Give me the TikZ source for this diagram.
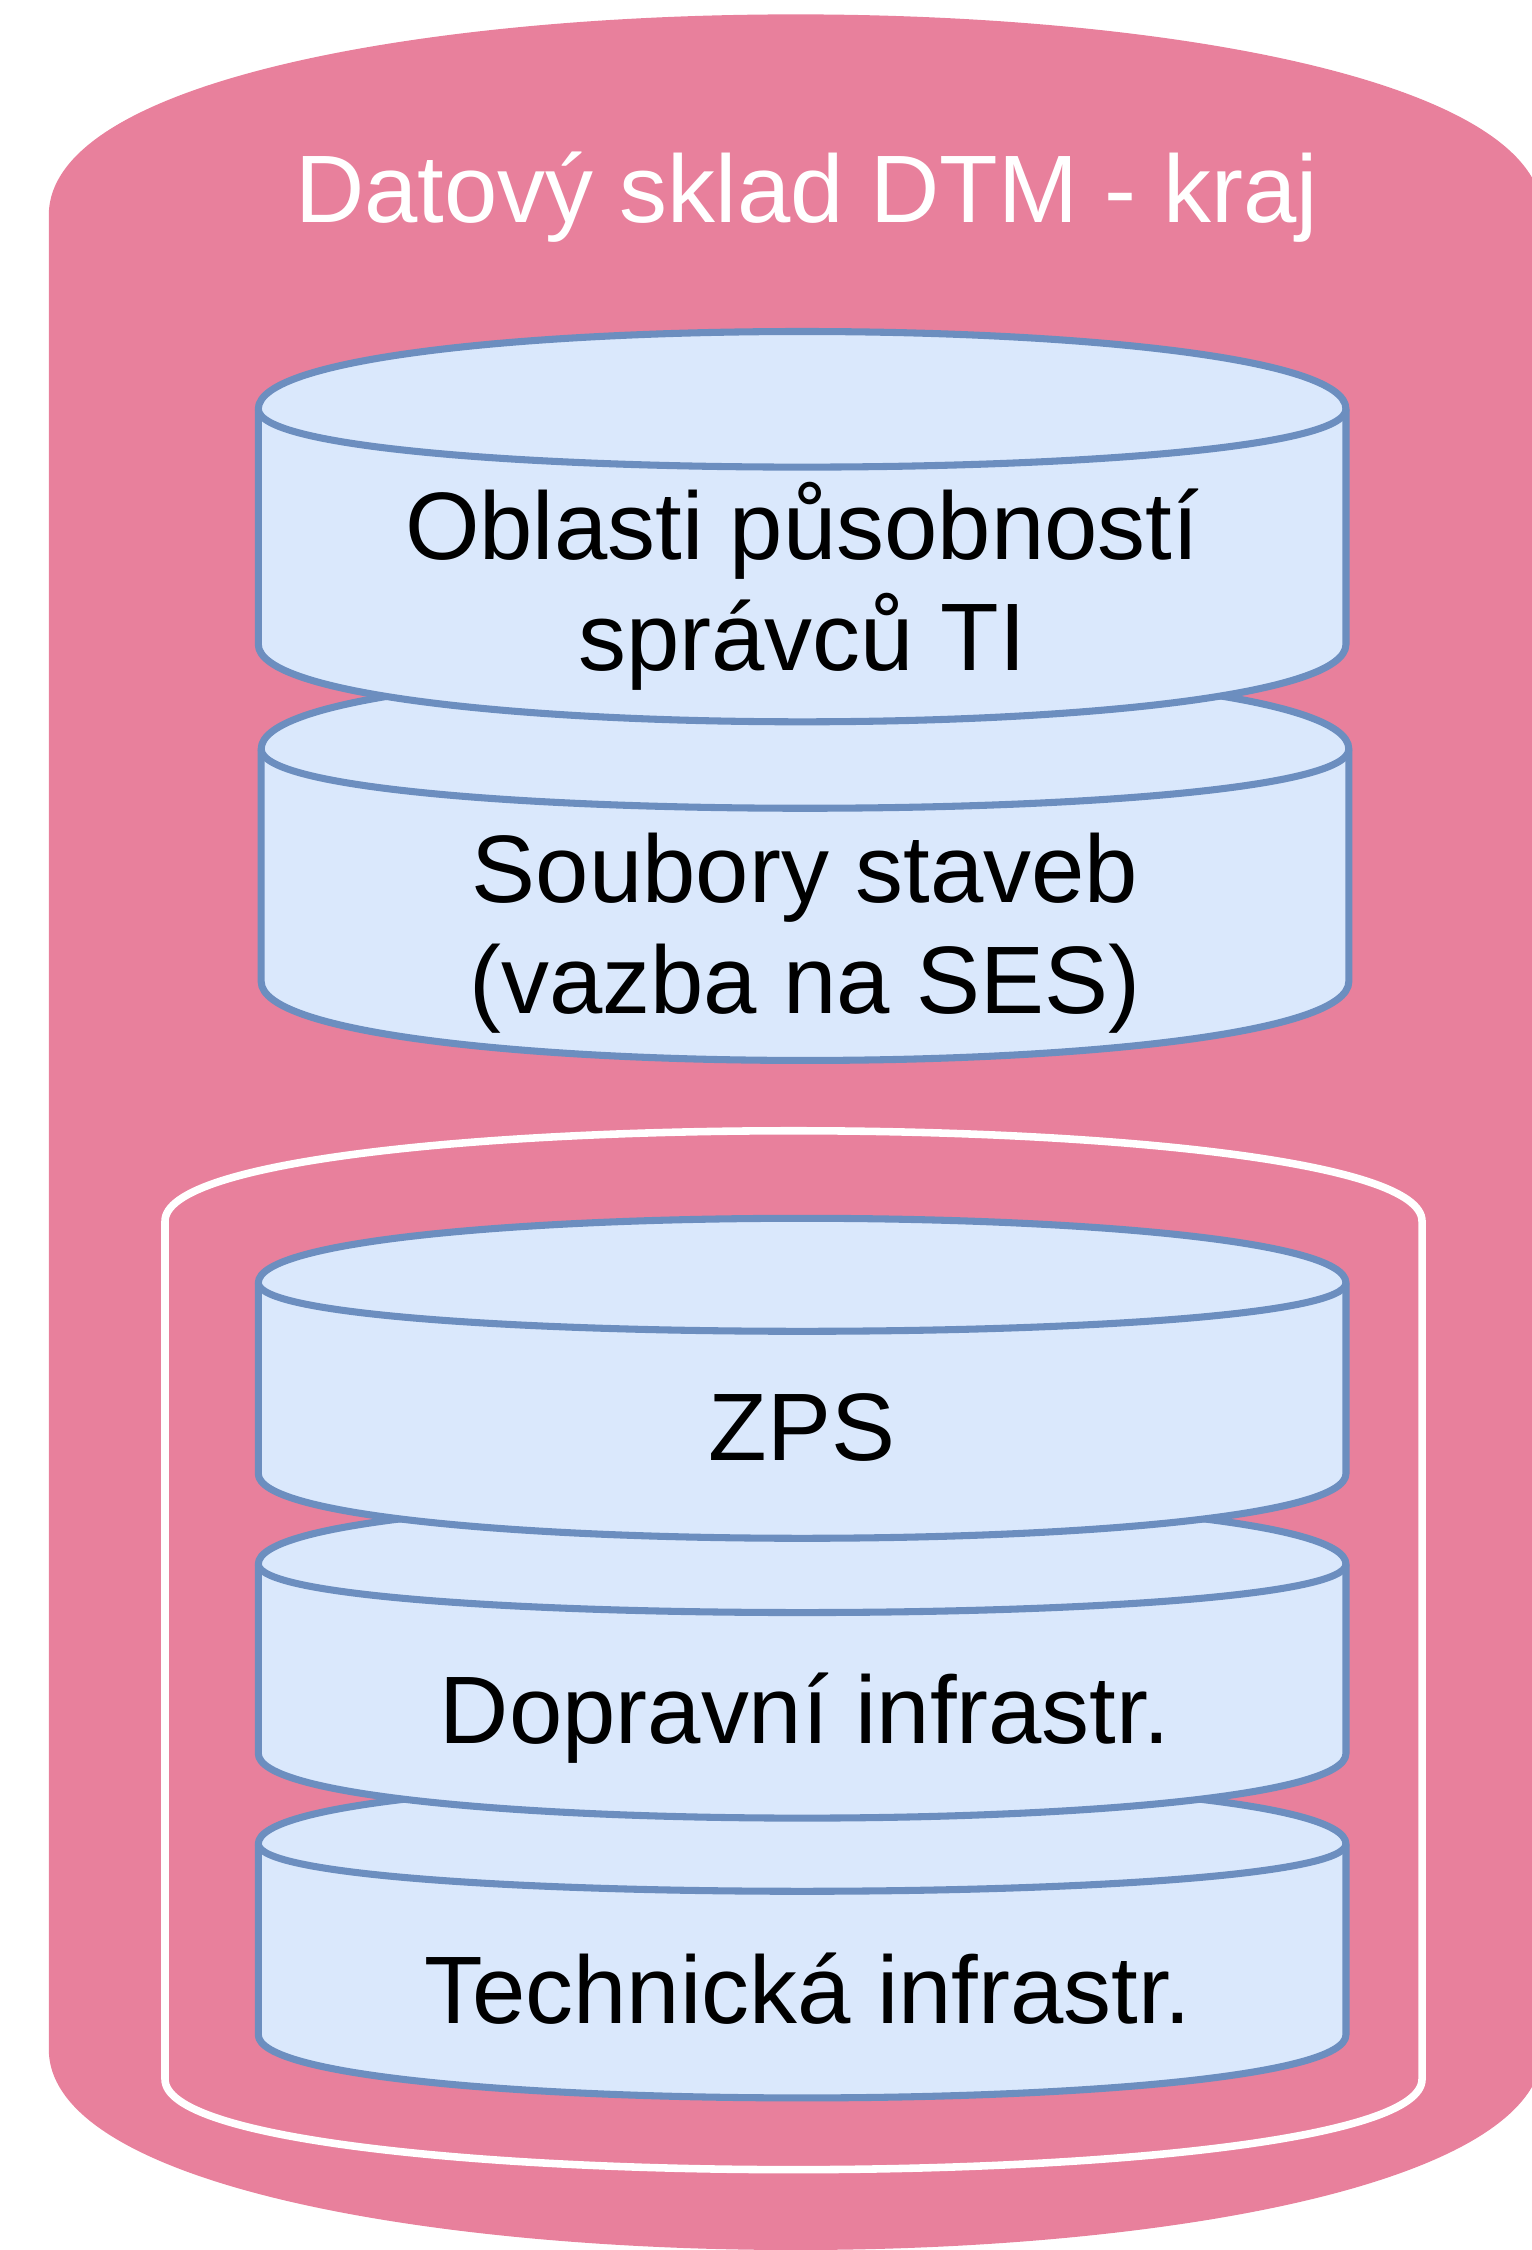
\documentclass[tikz,border=0pt]{standalone}
\usepackage{fontspec}
\setmainfont{Liberation Sans}
\definecolor{kraj}{HTML}{E8809C}
\definecolor{layerfill}{HTML}{DAE8FC}
\definecolor{layerline}{HTML}{6C8EBF}
% cylinder outline: left x, right x, top corner y, bottom corner y, bulge
\newcommand{\cylbody}[6][]{\path[#1] (#2,#4) .. controls (#2,#4-4*#6/3) and (#3,#4-4*#6/3) .. (#3,#4) -- (#3,#5) .. controls (#3,#5+4*#6/3) and (#2,#5+4*#6/3) .. (#2,#5) -- cycle;}
% front rim of the lid
\newcommand{\cylrim}[5][]{\path[#1] (#2,#4) .. controls (#2,#4+#5) and (#3,#4+#5) .. (#3,#4);}
\newcommand{\dblayer}[5]{\cylbody[layer]{#1}{#2}{#3}{#4}{#5}\cylrim[layer,fill=none]{#1}{#2}{#3}{#5}}
\begin{document}
\begin{tikzpicture}[x=0.01cm,y=-0.01cm]
        \tikzstyle{layer}=[draw=layerline,fill=layerfill,line width=1.4pt,line join=round]
        \tikzstyle{layertext}=[font=\fontsize{19}{22}\selectfont,align=center,anchor=base,inner sep=0pt]
        \useasboundingbox (0,0) rectangle (1067.6,1568);

        % whole store
        \cylbody[fill=kraj]{34}{1075}{150}{1428}{140}
        \node [layertext,text=white] (store) at (562,155) {Datový sklad DTM - kraj};

        % group of three layers
        \cylbody[draw=white,line width=1.5pt]{115}{991}{851}{1449}{63}

        \dblayer{182}{940}{522}{684}{55}
        \dblayer{180}{938}{285}{449}{54}
        \dblayer{180}{938}{1285}{1418}{44}
        \dblayer{180}{938}{1090}{1222}{45}
        \dblayer{180}{938}{894}{1027}{45}

        % base of a two-line text is its last line
        \node [layertext] (oblasti) at (559,467) {Oblasti působností\\správců TI};
        \node [layertext] (soubory) at (561,706) {Soubory staveb\\(vazba na SES)};
        \node [layertext] (zps) at (559,1018) {ZPS};
        \node [layertext] (doprava) at (561,1215) {Dopravní infrastr.};
        \node [layertext] (technika) at (563,1410) {Technická infrastr.};
\end{tikzpicture}
\end{document}
